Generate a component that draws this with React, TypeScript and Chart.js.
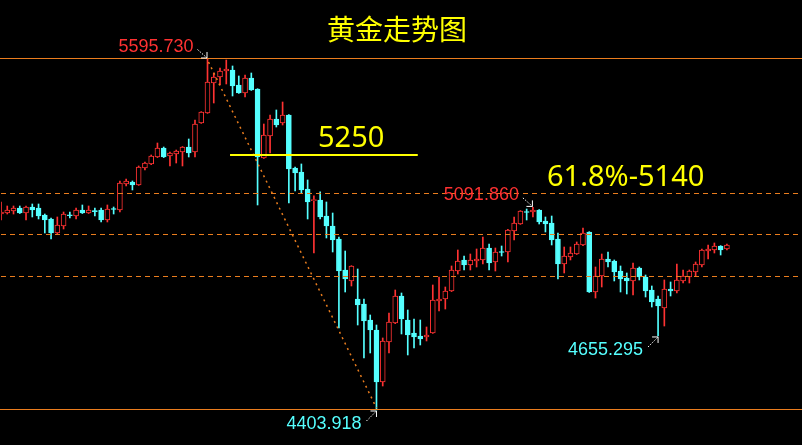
import { useEffect, useRef } from 'react';
import { Chart, registerables } from 'chart.js';

Chart.register(...registerables);

// ---- data ----
const opens = [
  5069.4, 5072.8, 5079.6, 5089.8, 5072.8, 5093.2, 5089.8, 5066.0, 5052.5, 5004.9,
  5028.7, 5067.0, 5062.6, 5083.0, 5072.8, 5081.0, 5083.0, 5049.1, 5088.0, 5083.0,
  5171.4, 5178.2, 5168.0, 5225.7, 5239.3, 5263.0, 5293.5, 5266.4, 5273.2, 5279.9,
  5296.9, 5279.9, 5378.4, 5412.4, 5514.2, 5534.6, 5555.0, 5558.4, 5507.5, 5480.3,
  5531.2, 5493.9, 5259.6, 5334.3, 5392.0, 5378.4, 5405.6, 5225.7, 5212.1, 5154.4,
  5115.0, 5117.0, 5062.6, 5028.7, 4984.6, 4879.3, 4842.0, 4780.8, 4763.8, 4709.5,
  4675.6, 4499.0, 4634.9, 4699.3, 4791.0, 4709.5, 4665.4, 4655.3, 4651.9, 4665.4,
  4774.0, 4780.8, 4808.0, 4875.9, 4913.3, 4896.3, 4909.9, 4913.3, 4954.0, 4906.5,
  4942.0, 4940.4, 5011.7, 5035.5, 5078.0, 5076.2, 5083.0, 5045.7, 5038.9, 4984.6,
  4899.7, 4923.4, 4933.6, 4964.2, 5008.3, 4804.6, 4858.9, 4916.7, 4909.9, 4875.9,
  4852.1, 4842.0, 4886.1, 4855.5, 4811.4, 4780.8, 4750.2, 4814.8, 4808.0, 4842.0,
  4855.5, 4872.5, 4896.3, 4943.8, 4947.2, 4960.8, 4950.6,
];
const highs = [
  5110.2, 5096.6, 5096.6, 5096.6, 5096.6, 5103.4, 5103.4, 5069.4, 5055.9, 5059.3,
  5076.2, 5076.2, 5089.8, 5100.0, 5096.6, 5089.8, 5089.8, 5100.0, 5093.2, 5181.6,
  5188.4, 5181.6, 5232.5, 5246.0, 5269.8, 5310.5, 5296.9, 5279.9, 5286.7, 5298.5,
  5324.1, 5388.6, 5417.0, 5595.73, 5548.2, 5565.2, 5592.3, 5572.0, 5538.0, 5541.4,
  5548.2, 5495.0, 5375.0, 5405.6, 5422.6, 5449.7, 5407.0, 5229.1, 5239.3, 5185.0,
  5130.7, 5144.3, 5110.2, 5072.8, 4991.4, 4943.8, 4894.0, 4882.7, 4780.8, 4726.5,
  4692.5, 4648.5, 4733.3, 4811.4, 4801.2, 4743.5, 4712.9, 4709.5, 4685.8, 4828.4,
  4855.5, 4821.6, 4892.9, 4947.2, 4926.8, 4933.6, 4950.6, 4991.4, 4967.6, 4954.0,
  4960.8, 5017.0, 5059.3, 5081.0, 5086.4, 5091.86, 5084.5, 5059.3, 5062.6, 5004.9,
  4957.4, 4957.4, 4974.4, 5021.9, 5009.5, 4889.5, 4933.6, 4940.4, 4913.3, 4892.9,
  4869.1, 4903.1, 4889.5, 4862.3, 4825.0, 4791.0, 4845.4, 4838.6, 4899.7, 4879.3,
  4879.3, 4906.5, 4950.6, 4964.2, 4971.0, 4962.0, 4967.6,
];
const lows = [
  5049.1, 5069.4, 5069.4, 5071.0, 5049.1, 5059.3, 5052.5, 5004.9, 4984.6, 5001.6,
  5018.5, 5055.9, 5052.5, 5071.0, 5071.0, 5062.6, 5042.3, 5042.3, 5069.4, 5076.2,
  5164.6, 5151.0, 5166.5, 5218.9, 5237.0, 5261.0, 5261.0, 5232.5, 5242.6, 5232.5,
  5263.0, 5263.0, 5377.0, 5411.0, 5446.3, 5507.5, 5510.9, 5470.1, 5479.0, 5466.7,
  5489.0, 5100.0, 5258.0, 5276.6, 5364.8, 5371.7, 5106.8, 5147.6, 5140.9, 5052.5,
  4937.0, 5052.5, 4988.0, 4940.4, 4682.4, 4804.6, 4825.0, 4692.5, 4580.5, 4597.5,
  4403.918, 4485.4, 4597.5, 4697.0, 4662.0, 4590.7, 4614.5, 4624.7, 4638.3, 4664.0,
  4740.1, 4746.8, 4806.0, 4865.7, 4879.3, 4879.3, 4889.5, 4899.7, 4879.3, 4875.9,
  4926.8, 4906.5, 4981.2, 5034.0, 5049.1, 5059.3, 5035.5, 5008.3, 4964.2, 4848.8,
  4869.1, 4913.3, 4932.0, 4962.0, 4803.0, 4784.2, 4821.6, 4889.5, 4842.0, 4804.6,
  4797.8, 4794.4, 4845.4, 4787.6, 4753.6, 4655.295, 4689.1, 4791.0, 4801.2, 4835.2,
  4835.2, 4858.9, 4889.5, 4916.7, 4937.0, 4930.2, 4947.2,
];
const closes = [
  5076.2, 5083.0, 5089.8, 5072.8, 5093.2, 5083.0, 5062.6, 5049.1, 5004.9, 5032.1,
  5069.4, 5063.6, 5083.0, 5072.8, 5083.0, 5077.6, 5049.1, 5086.4, 5084.6, 5174.8,
  5181.6, 5168.0, 5229.1, 5242.6, 5266.4, 5293.5, 5263.0, 5276.6, 5283.3, 5296.9,
  5276.6, 5375.0, 5415.8, 5517.6, 5534.6, 5555.0, 5561.8, 5504.1, 5480.3, 5531.2,
  5490.5, 5263.0, 5337.7, 5392.0, 5371.7, 5405.6, 5222.3, 5208.7, 5151.0, 5110.2,
  5118.4, 5059.3, 5028.7, 4981.2, 4875.9, 4848.8, 4892.9, 4760.4, 4706.1, 4675.6,
  4499.0, 4638.3, 4702.7, 4791.0, 4712.9, 4658.6, 4651.9, 4645.1, 4658.6, 4777.4,
  4780.8, 4808.0, 4879.3, 4909.9, 4896.3, 4913.3, 4916.7, 4954.0, 4903.1, 4940.4,
  4938.6, 5015.1, 5038.9, 5079.6, 5074.6, 5083.0, 5042.3, 5035.5, 4981.2, 4899.7,
  4926.8, 4937.0, 4967.6, 5004.9, 4804.6, 4858.9, 4916.7, 4906.5, 4872.5, 4848.8,
  4842.0, 4886.1, 4855.5, 4808.0, 4770.6, 4757.0, 4814.8, 4808.0, 4845.4, 4858.9,
  4875.9, 4899.7, 4947.2, 4950.6, 4960.8, 4947.2, 4964.2,
];

// empty slots to the right of the last candle (chart shift)
const emptySlots = 12;

// annotation levels
const swingHigh = 5595.73;
const swingLow = 4403.918;
const fibLevels = [5140.46, 4999.82, 4859.19];
const keyLevel = 5270; // drawn yellow line (labelled "5250")
const keyLevelLabel = '5250';
const fibLabel = '61.8%-5140';
const title = '黄金走势图';

// marked extremes: candle index, price, label, type
const markers = [
  { idx: 33, price: 5595.73, text: '5595.730', kind: 'high' },
  { idx: 60, price: 4403.918, text: '4403.918', kind: 'low' },
  { idx: 85, price: 5091.86, text: '5091.860', kind: 'high' },
  { idx: 105, price: 4655.295, text: '4655.295', kind: 'low' },
];

// axis range
const Y_MIN = 4285.06;
const Y_MAX = 5796.06;

const RED = '#ff3232';
const CYAN = '#55ffff';
const ORANGE = '#ea7d1e';
const YELLOW = '#ffff00';

const slotLabels = [
  ...opens.map((_, i) => String(i + 1)),
  ...Array.from({ length: emptySlots }, () => ''),
];

const bgPlugin = {
  id: 'bg',
  beforeDraw(chart: any) {
    const { ctx } = chart;
    ctx.save();
    ctx.fillStyle = '#000';
    ctx.fillRect(0, 0, chart.width, chart.height);
    ctx.restore();
  },
};

function drawArrow(ctx: CanvasRenderingContext2D, x0: number, y0: number, x1: number, y1: number) {
  ctx.save();
  ctx.strokeStyle = '#ffffff';
  ctx.lineWidth = 1;
  ctx.setLineDash([1.5, 1.5]);
  ctx.beginPath();
  ctx.moveTo(x0, y0);
  ctx.lineTo(x1, y1);
  ctx.stroke();
  ctx.setLineDash([]);
  const sx = Math.sign(x1 - x0);
  const sy = Math.sign(y1 - y0);
  ctx.beginPath();
  ctx.moveTo(x1 - sx * 6, y1);
  ctx.lineTo(x1, y1);
  ctx.lineTo(x1, y1 - sy * 6);
  ctx.stroke();
  ctx.restore();
}

const annotationPlugin = {
  id: 'annotations',
  afterDatasetsDraw(chart: any) {
    const { ctx } = chart;
    const xs = chart.scales.x;
    const ys = chart.scales.y;
    const W = chart.width;
    ctx.save();

    const snap = (v: number) => Math.round(v) + 0.5;

    // swing high / low solid lines
    ctx.strokeStyle = ORANGE;
    ctx.lineWidth = 1;
    for (const p of [swingHigh, swingLow]) {
      const py = snap(ys.getPixelForValue(p) - 0.5);
      ctx.beginPath();
      ctx.moveTo(0, py);
      ctx.lineTo(W, py);
      ctx.stroke();
    }

    // fib dashed lines
    ctx.setLineDash([5, 4]);
    for (const p of fibLevels) {
      const py = snap(ys.getPixelForValue(p));
      ctx.beginPath();
      ctx.moveTo(1, py);
      ctx.lineTo(W - 4, py);
      ctx.stroke();
    }

    // diagonal dotted line from high to low
    ctx.setLineDash([2, 4]);
    ctx.lineWidth = 1.5;
    ctx.beginPath();
    ctx.moveTo(xs.getPixelForValue(33) + 1, ys.getPixelForValue(swingHigh) + 3);
    ctx.lineTo(xs.getPixelForValue(60), ys.getPixelForValue(swingLow) - 2);
    ctx.stroke();
    ctx.setLineDash([]);

    // yellow key level line
    ctx.strokeStyle = YELLOW;
    ctx.lineWidth = 2;
    const ky = Math.round(ys.getPixelForValue(keyLevel));
    ctx.beginPath();
    ctx.moveTo(xs.getPixelForValue(36.6), ky);
    ctx.lineTo(xs.getPixelForValue(66.6), ky);
    ctx.stroke();

    // texts
    ctx.fillStyle = YELLOW;
    ctx.textBaseline = 'alphabetic';
    ctx.textAlign = 'left';
    ctx.font = '29px "Noto Sans", "Open Sans", sans-serif';
    ctx.fillText(keyLevelLabel, xs.getPixelForValue(50.65), ky - 8);
    ctx.fillText(fibLabel, xs.getPixelForValue(87.25), ys.getPixelForValue(fibLevels[0]) - 7.5);

    ctx.textAlign = 'center';
    ctx.textBaseline = 'middle';
    ctx.font = '28px "Noto Sans CJK SC", sans-serif';
    ctx.fillText(title, W / 2 - 4, 29);

    // markers
    ctx.font = '18px "Liberation Sans", Arial, sans-serif';
    ctx.textAlign = 'right';
    ctx.textBaseline = 'middle';
    for (const m of markers) {
      const px = xs.getPixelForValue(m.idx);
      const py = ys.getPixelForValue(m.price);
      if (m.kind === 'high') {
        ctx.fillStyle = RED;
        ctx.fillText(m.text, px - 14, py - 12);
        drawArrow(ctx, px - 10, py - 9.5, px - 0.5, py - 1);
      } else {
        ctx.fillStyle = CYAN;
        ctx.fillText(m.text, px - 15, py + 14.5);
        drawArrow(ctx, px - 10, py + 11, px, py + 1);
      }
    }

    ctx.restore();
  },
};

export default function App() {
  const ref = useRef<HTMLCanvasElement>(null);

  useEffect(() => {
    document.body.style.margin = '0';
    document.body.style.background = '#000';
    const canvas = ref.current;
    if (!canvas) return;
    const up = opens.map((o, i) => closes[i] >= o);
    const chart = new Chart(canvas, {
      type: 'bar',
      data: {
        labels: slotLabels,
        datasets: [
          {
            label: 'wick',
            data: lows.map((l, i) => [l, highs[i]]) as any,
            backgroundColor: up.map((u) => (u ? RED : CYAN)),
            borderWidth: 0,
            barThickness: 1,
            grouped: false,
            order: 2,
          } as any,
          {
            label: 'body',
            data: opens.map((o, i) => [o, closes[i]]) as any,
            backgroundColor: up.map((u) => (u ? '#000000' : CYAN)),
            borderColor: up.map((u) => (u ? RED : CYAN)),
            borderWidth: 1,
            borderSkipped: false,
            barThickness: 5,
            grouped: false,
            order: 1,
          } as any,
        ],
      },
      options: {
        responsive: false,
        animation: false,
        events: [],
        layout: { padding: { left: 1, right: 0, top: 0, bottom: 0 } },
        plugins: { legend: { display: false }, tooltip: { enabled: false } },
        scales: {
          x: { type: 'category', offset: false, display: false, grid: { display: false } },
          y: { type: 'linear', min: Y_MIN, max: Y_MAX, display: false, grid: { display: false } },
        },
      },
      plugins: [bgPlugin, annotationPlugin],
    });
    return () => chart.destroy();
  }, []);

  return (
    <div style={{ width: 802, height: 445, background: '#000' }}>
      <canvas ref={ref} width={802} height={445} style={{ display: 'block' }} />
    </div>
  );
}
